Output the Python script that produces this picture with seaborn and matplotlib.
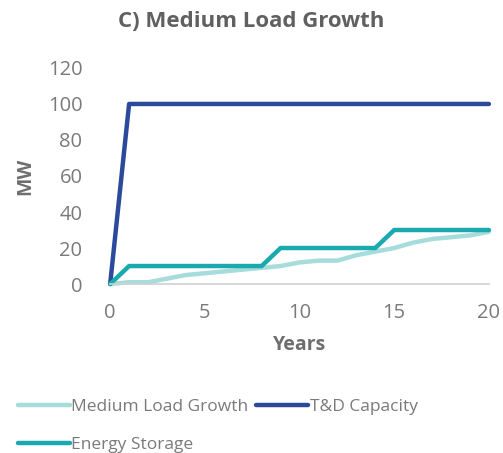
import matplotlib
matplotlib.use("Agg")
import matplotlib.pyplot as plt
from matplotlib.lines import Line2D
import seaborn as sns
import pandas as pd

years = list(range(0, 21))
medium_load_growth = [0, 1, 1, 3, 5, 6, 7, 8, 9, 10, 12, 13, 13, 16, 18, 20, 23, 25, 26, 27, 29]
td_capacity = [0] + [100] * 20
energy_storage = [0] + [10] * 8 + [20] * 6 + [30] * 6

series_names = ["Medium Load Growth", "T&D Capacity", "Energy Storage"]
x_ticks = [0, 5, 10, 15, 20]
y_ticks = [0, 20, 40, 60, 80, 100, 120]

frames = []
for name, vals in zip(series_names, [medium_load_growth, td_capacity, energy_storage]):
    frames.append(pd.DataFrame({"Years": years, "MW": vals, "Series": name}))
df = pd.concat(frames, ignore_index=True)

sns.set_theme(style="white")
plt.rcParams["font.family"] = ["Open Sans", "DejaVu Sans"]

palette = {"Medium Load Growth": "#a6dcdc",
           "T&D Capacity": "#2c4a9c",
           "Energy Storage": "#19a9ae"}
text_grey = "#7a7a7a"

fig = plt.figure(figsize=(5.03, 4.53), dpi=100)
ax = fig.add_axes([0.219, 0.373, 0.753, 0.477])

sns.lineplot(data=df, x="Years", y="MW", hue="Series", palette=palette,
             hue_order=series_names, linewidth=3.2, ax=ax, legend=False)

ax.set_xlim(0, 20)
ax.set_ylim(0, 120)
ax.set_xticks(x_ticks)
ax.set_yticks(y_ticks)
ax.set_xticklabels([str(t) for t in x_ticks])
ax.set_yticklabels([str(t) for t in y_ticks])
ax.tick_params(axis="y", length=0, labelsize=14.5, labelcolor=text_grey, pad=20)
ax.tick_params(axis="x", length=0, labelsize=14.5, labelcolor=text_grey, pad=14)
for side in ["top", "right", "left"]:
    ax.spines[side].set_visible(False)
ax.spines["bottom"].set_color("#d0d0d0")
ax.spines["bottom"].set_linewidth(1.2)
for line in ax.lines:
    line.set_clip_on(False)
    line.set_solid_capstyle("round")

ax.set_xlabel("Years", fontsize=14, color="#6e6e6e", fontweight="bold", labelpad=8)
ax.set_ylabel("MW", fontsize=14, color="#6e6e6e", fontweight="bold", labelpad=9)
fig.text(0.5, 0.952, "C) Medium Load Growth", ha="center", va="center",
         fontsize=16, fontweight="bold", color="#606060")

order = ["Medium Load Growth", "Energy Storage", "T&D Capacity"]
handles = [Line2D([], [], color=palette[n], linewidth=3.2, solid_capstyle="round") for n in order]
leg = fig.legend(handles, order, loc="upper left", bbox_to_anchor=(0.035, 0.12),
                 ncol=2, frameon=False, fontsize=12.5, handlelength=3.0,
                 handletextpad=0.1, columnspacing=0.45, labelspacing=1.25,
                 borderaxespad=0, borderpad=0)
for t in leg.get_texts():
    t.set_color(text_grey)

fig.savefig("out.png", dpi=100)
